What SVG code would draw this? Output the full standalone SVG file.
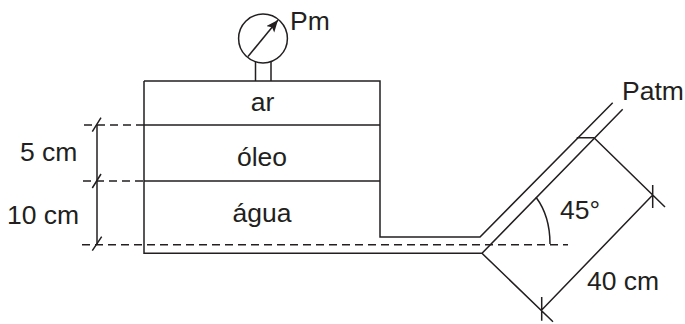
<svg xmlns="http://www.w3.org/2000/svg" width="685" height="324" viewBox="0 0 685 324">
<style>
text{font-family:"Liberation Sans",Arial,sans-serif;font-size:26.500px;fill:#231f20}
.m{text-anchor:middle}
.l{fill:none;stroke:#231f20;stroke-width:1.5}
.d{fill:none;stroke:#231f20;stroke-width:1.5;stroke-dasharray:8 5}
</style>
<defs><marker id="ah" markerUnits="userSpaceOnUse" markerWidth="14" markerHeight="12" refX="12" refY="5" orient="auto"><path d="M0 0L12 5L0 10L2.500 5Z" fill="#231f20"/></marker></defs>
<rect width="685" height="324" fill="#fff"/>
<g id="connectors">
<path class="l" d="M248 56.500L278 20" marker-end="url(#ah)"/>
<path class="l" d="M97 125V245"/>
<path class="l" d="M92.300 131.700L101 117.700M92.300 188L101 174M92.300 250.700L101.700 236.700"/>
<path class="d" d="M84 125H144M83 181H144M82 244.700H568"/>
<path class="l" d="M594 137.700L665 207M482 253.300L553 321.700M652.700 195L541.700 310M652.700 185V208M541.700 297V320.700"/>
<path class="l" d="M536 197.300Q550 216 550 244"/>
</g>
<g id="gauge"><circle class="l" cx="263" cy="38.500" r="24.400"/><path class="l" d="M255.500 62V81M271 62V81"/><text x="290" y="29.500">Pm</text></g>
<g id="tank">
<path class="l" d="M144 81H380V237H480L612.700 102.700M144 81V253.300H482L622.700 109.300"/>
<path class="l" d="M144 125H380M144 181H380M576.700 137.700H594"/>
<text class="m" x="262.500" y="110.700">ar</text><text class="m" x="262" y="166">óleo</text><text class="m" x="262" y="221.700">água</text>
</g>
<g id="labels">
<text x="20" y="160.700">5 cm</text><text x="7" y="224">10 cm</text>
<text x="622" y="100">Patm</text><text x="560" y="219">45°</text><text x="587" y="290">40 cm</text>
</g>
</svg>
